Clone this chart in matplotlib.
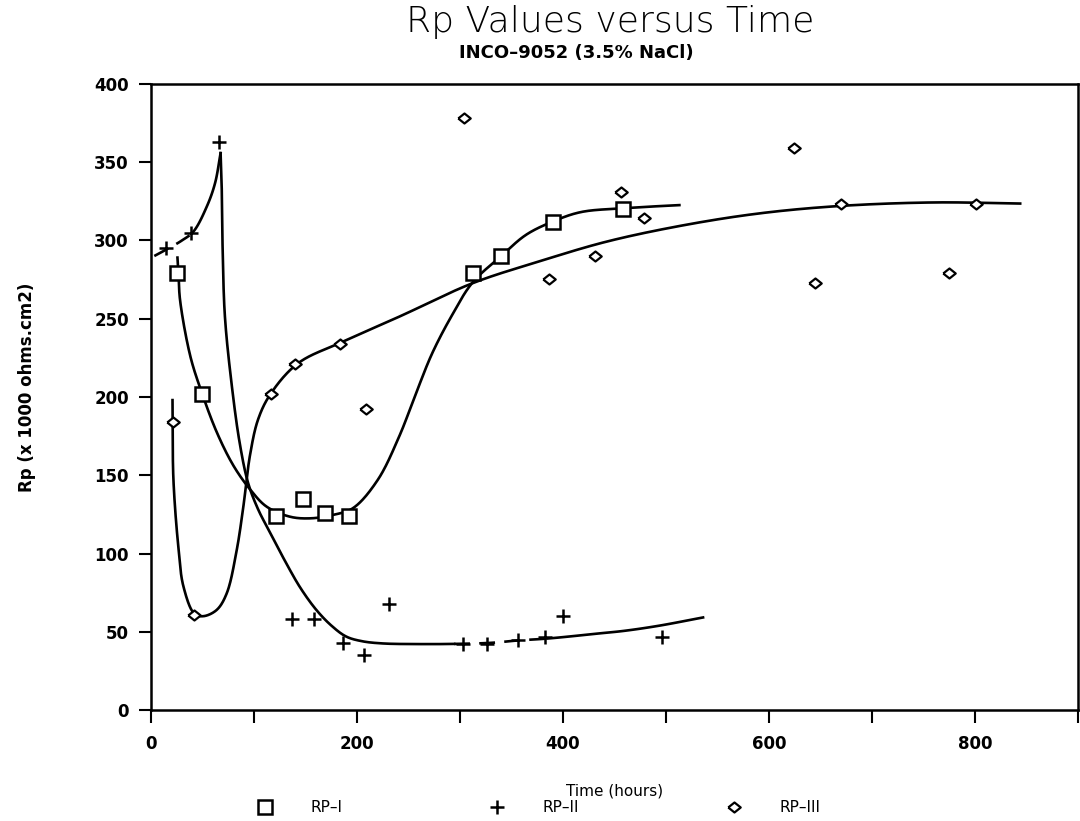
import numpy as np
import matplotlib.pyplot as plt

rp1_t = [25, 49, 121, 147, 169, 192, 313, 340, 390, 458]
rp1_v = [279, 202, 124, 135, 126, 124, 279, 290, 312, 320]

rp2_t = [14, 39, 66, 137, 158, 186, 207, 231, 303, 326, 356, 382, 400, 496]
rp2_v = [295, 305, 363, 58, 58, 43, 35, 68, 42, 42, 45, 47, 60, 47]

rp3_t = [21, 42, 116, 140, 183, 209, 304, 386, 431, 456, 479, 624, 645, 670, 775, 801]
rp3_v = [184, 61, 202, 221, 234, 192, 378, 275, 290, 331, 314, 359, 273, 323, 279, 323]

# hand-drawn fit curves, knots
rp1_fit_t = [25.5, 26.5, 28, 38, 49, 64, 80, 96, 112, 135, 155, 176, 196, 220, 241,
             257, 273, 292, 312, 340, 364, 390, 417, 458, 513]
rp1_fit_v = [289, 279, 262, 226, 203, 177, 156, 141, 130, 123.5, 122.5, 124.6, 129, 147, 175,
             202, 228, 252, 273, 290, 303.5, 312, 318, 320.5, 322.5]

rp2_rise_t = [3, 17, 30, 41, 54, 62, 67.4]
rp2_rise_v = [290, 295, 300, 305.6, 321.6, 336.5, 355.7]
rp2_fall_t = [67.4, 68.4, 69.4, 71.6, 78, 86, 94.2, 104, 115, 131, 145, 160.4, 175, 189.4, 205,
              225, 260, 293, 330, 356, 386, 435, 460, 493, 536]
rp2_fall_v = [355.7, 336.5, 294, 251.3, 208.8, 170.4, 144.9, 128, 114, 94, 78, 64, 54, 47, 44,
              42.6, 42.2, 42.3, 43, 44.5, 45.8, 49, 50.7, 53.9, 59.2]

rp3_fit_t = [20.7, 20.8, 21.6, 26.4, 31.3, 42, 50.6, 63.6, 73.3, 83, 89.5, 96, 104, 116, 142.6,
             185, 241, 312, 376.6, 443, 520, 593, 670, 760, 844]
rp3_fit_v = [198, 184, 147, 104, 79, 61.5, 60, 64, 74.5, 102, 130, 163, 186, 202, 221.5,
             235, 251.3, 272.6, 286.5, 299.3, 310, 317.4, 322, 324.2, 323.5]

labels = ['RP\u2013I', 'RP\u2013II', 'RP\u2013III']


def smooth(xs, ys, n=30, alpha=0.5):
    # centripetal catmull-rom through the knots (scaled to screen aspect)
    sx, sy = 1.03, 1.57
    pts = np.column_stack([np.asarray(xs, float) * sx, np.asarray(ys, float) * sy])
    pts = np.vstack([2 * pts[0] - pts[1], pts, 2 * pts[-1] - pts[-2]])
    out = []
    for i in range(len(pts) - 3):
        p0, p1, p2, p3 = pts[i:i + 4]
        t0 = 0.0
        t1 = t0 + np.linalg.norm(p1 - p0) ** alpha
        t2 = t1 + np.linalg.norm(p2 - p1) ** alpha
        t3 = t2 + np.linalg.norm(p3 - p2) ** alpha
        t = np.linspace(t1, t2, n)[:, None]
        a1 = (t1 - t) / (t1 - t0) * p0 + (t - t0) / (t1 - t0) * p1
        a2 = (t2 - t) / (t2 - t1) * p1 + (t - t1) / (t2 - t1) * p2
        a3 = (t3 - t) / (t3 - t2) * p2 + (t - t2) / (t3 - t2) * p3
        b1 = (t2 - t) / (t2 - t0) * a1 + (t - t0) / (t2 - t0) * a2
        b2 = (t3 - t) / (t3 - t1) * a2 + (t - t1) / (t3 - t1) * a3
        c = (t2 - t) / (t2 - t1) * b1 + (t - t1) / (t2 - t1) * b2
        out.append(c if i == 0 else c[1:])
    c = np.vstack(out)
    return c[:, 0] / sx, c[:, 1] / sy


fig = plt.figure(figsize=(10.8, 8.21), dpi=100)
ax = fig.add_axes([0.140, 0.135, 0.858, 0.763])

lw = 1.9
dash = (0, (6, 3.5))

x, y = smooth(rp1_fit_t, rp1_fit_v)
ax.plot(x, y, color='black', lw=lw)

x, y = smooth(rp3_fit_t, rp3_fit_v)
ax.plot(x, y, color='black', lw=lw)

x, y = smooth(rp2_rise_t, rp2_rise_v)
m = x <= 41
ax.plot(x[m], y[m], color='black', lw=lw, linestyle=dash)
k = np.argmax(~m) - 1
ax.plot(x[k:], y[k:], color='black', lw=lw)

x, y = smooth(rp2_fall_t, rp2_fall_v)
seg = (x >= 293) & (x <= 386)
i0, i1 = np.where(seg)[0][[0, -1]]
ax.plot(x[:i0 + 1], y[:i0 + 1], color='black', lw=lw)
ax.plot(x[i0:i1 + 1], y[i0:i1 + 1], color='black', lw=lw, linestyle=dash)
ax.plot(x[i1:], y[i1:], color='black', lw=lw)

diamond = [(-1, 0), (0, 0.8), (1, 0), (0, -0.8), (-1, 0)]
h1, = ax.plot(rp1_t, rp1_v, linestyle='none', marker='s', markersize=10,
              markerfacecolor='white', markeredgecolor='black', markeredgewidth=1.8)
h2, = ax.plot(rp2_t, rp2_v, linestyle='none', marker='+', markersize=10,
              color='black', markeredgewidth=1.8)
h3, = ax.plot(rp3_t, rp3_v, linestyle='none', marker=diamond, markersize=9,
              markerfacecolor='white', markeredgecolor='black', markeredgewidth=1.6)

ax.set_xlim(0, 900)
ax.set_ylim(0, 400)
ax.set_xticks(range(0, 801, 200))
ax.set_xticks(range(100, 901, 200), minor=True)
ax.set_yticks(range(0, 401, 50))
ax.tick_params(axis='both', which='both', direction='out', length=9, width=1.5,
               labelsize=12, pad=7)
ax.tick_params(axis='x', which='major', pad=9)
for lab in ax.get_xticklabels() + ax.get_yticklabels():
    lab.set_fontweight('bold')
for s in ax.spines.values():
    s.set_linewidth(1.8)

ax.set_xlabel('Time (hours)', fontsize=11, labelpad=22)
ax.set_ylabel('Rp (x 1000 ohms.cm2)', fontsize=12, fontweight='bold')
ax.yaxis.set_label_coords(-0.124, 0.516)

fig.text(0.565, 0.961, 'Rp Values versus Time', ha='center', va='baseline',
         fontsize=26, family='DejaVu Sans', fontweight='light')
fig.text(0.534, 0.929, 'INCO\u20139052 (3.5% NaCl)', ha='center', va='baseline',
         fontsize=13, fontweight='bold')

fig.legend([h1, h2, h3], labels, ncol=3, loc='center', bbox_to_anchor=(0.499, 0.016),
           frameon=False, fontsize=11, handlelength=1.0, handletextpad=2.5,
           columnspacing=9.6)

fig.savefig('out.png', dpi=100)
